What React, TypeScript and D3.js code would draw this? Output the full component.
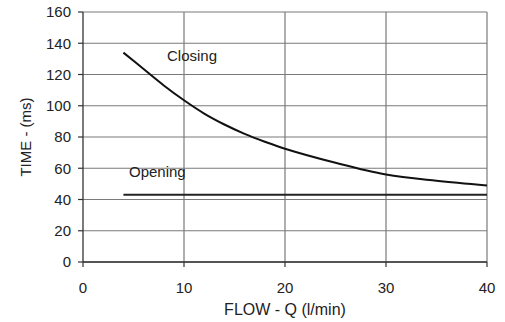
import React from "react";
import * as d3 from "d3";

const closingFlow = [4, 6, 8, 10, 12, 14, 16, 18, 20, 25, 30, 35, 40];
const closingTime = [134, 123.5, 113, 103.5, 95, 88, 82, 77, 72.5, 63.5, 56, 52, 49];
const openingFlow = [4, 40];
const openingTime = [43, 43];
const xTicks = [0, 10, 20, 30, 40];
const yTicks = [0, 20, 40, 60, 80, 100, 120, 140, 160];
const xTitle = "FLOW - Q (l/min)";
const yTitle = "TIME - (ms)";
const closingLabel = "Closing";
const openingLabel = "Opening";

const W = 505;
const H = 322;
const FONT = "'Liberation Sans', Arial, sans-serif";

export default function App() {
  const x = d3.scaleLinear().domain([0, 40]).range([83, 487]);
  const y = d3.scaleLinear().domain([0, 160]).range([262, 12]);
  const line = d3
    .line<[number, number]>()
    .x((d) => x(d[0]))
    .y((d) => y(d[1]))
    .curve(d3.curveCatmullRom.alpha(0.5));
  const closing = closingFlow.map((f, i) => [f, closingTime[i]] as [number, number]);
  const opening = openingFlow.map((f, i) => [f, openingTime[i]] as [number, number]);
  const straight = d3
    .line<[number, number]>()
    .x((d) => x(d[0]))
    .y((d) => y(d[1]));

  return (
    <svg
      width={W}
      height={H}
      style={{ position: "absolute", left: 0, top: 0, background: "#fff" }}
      fontFamily={FONT}
    >
      {yTicks.map((t) => (
        <line key={"gy" + t} x1={x(0)} x2={x(40)} y1={y(t)} y2={y(t)} stroke="#7a7a7a" strokeWidth={1.2} />
      ))}
      {xTicks.filter((t) => t > 0).map((t) => (
        <line key={"gx" + t} x1={x(t)} x2={x(t)} y1={y(0)} y2={y(160)} stroke="#7a7a7a" strokeWidth={1.2} />
      ))}
      <line x1={x(0)} x2={x(0)} y1={y(0)} y2={y(160)} stroke="#333" strokeWidth={1.3} />
      <line x1={x(0)} x2={x(40)} y1={y(0)} y2={y(0)} stroke="#333" strokeWidth={1.3} />
      {yTicks.map((t) => (
        <g key={"ty" + t}>
          <line x1={x(0) - 5} x2={x(0)} y1={y(t)} y2={y(t)} stroke="#333" strokeWidth={1.2} />
          <text x={x(0) - 12} y={y(t)} dy="0.36em" textAnchor="end" fontSize={15} fill="#222">
            {t}
          </text>
        </g>
      ))}
      {xTicks.map((t) => (
        <g key={"tx" + t}>
          <line x1={x(t)} x2={x(t)} y1={y(0)} y2={y(0) + 5} stroke="#333" strokeWidth={1.2} />
          <text x={x(t)} y={293} textAnchor="middle" fontSize={15} fill="#222">
            {t}
          </text>
        </g>
      ))}
      <path d={line(closing) || ""} fill="none" stroke="#111" strokeWidth={2} />
      <path d={straight(opening) || ""} fill="none" stroke="#222" strokeWidth={2} />
      <text x={167} y={61} fontSize={15} fill="#222">
        {closingLabel}
      </text>
      <text x={129} y={177} fontSize={15} fill="#222">
        {openingLabel}
      </text>
      <text x={285} y={315} textAnchor="middle" fontSize={16} fill="#222">
        {xTitle}
      </text>
      <text transform={`translate(31,137) rotate(-90)`} textAnchor="middle" fontSize={15} fill="#222">
        {yTitle}
      </text>
    </svg>
  );
}
